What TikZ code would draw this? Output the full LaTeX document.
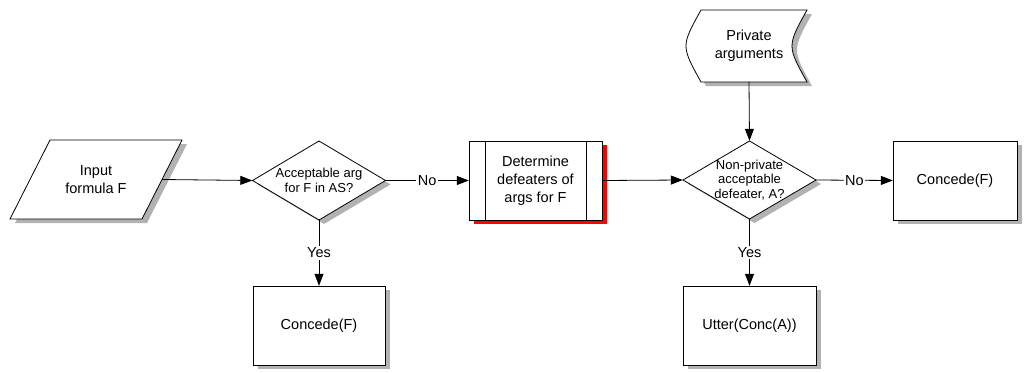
\documentclass[tikz,border=0pt]{standalone}
\usepackage{fontspec}
\setmainfont{Liberation Sans}
\usetikzlibrary{arrows.meta}

\definecolor{shadowgrey}{rgb}{0.7,0.7,0.7}
\tikzset{
  txt/.style={inner sep=0pt, align=center, font=\fontsize{14.5}{18}\selectfont},
  smalltxt/.style={inner sep=0pt, align=center, font=\fontsize{13}{15}\selectfont},
  outline/.style={draw=black, line width=0.8pt, fill=white},
  blockshadow/.style={fill=shadowgrey, draw=none},
  flow/.style={draw=black, line width=0.8pt, -{Triangle[length=12pt,width=9pt]}},
  lbl/.style={fill=white, inner sep=1.5pt, font=\fontsize{14.5}{17}\selectfont}
}

\begin{document}
\begin{tikzpicture}[x=1pt, y=-1pt]
  \useasboundingbox (0,0) rectangle (1024,372);

  % grey shadows, offset 5 right and 4 down
  \fill[blockshadow] (55,144) -- (187,144) -- (147,223) -- (15,223) -- cycle;
  \fill[blockshadow] (257.5,184.5) -- (324,145) -- (390.5,184.5) -- (324,224) -- cycle;
  \fill[red] (474,145) rectangle (607,224);
  \fill[blockshadow] (688,184) -- (754.5,145) -- (821,184) -- (754.5,223) -- cycle;
  \fill[blockshadow] (898,145) rectangle (1022,224);
  \fill[blockshadow] (706,14) -- (812,14) .. controls (792,50) .. (812,86)
    -- (706,86) .. controls (686,50) .. (706,14) -- cycle;
  \fill[blockshadow] (258,290) rectangle (390,369);
  \fill[blockshadow] (688,290) rectangle (821,369);

  % block outlines
  \path[outline] (50,140) -- (182,140) -- (142,219) -- (10,219) -- cycle;
  \path[outline] (252.5,180.5) -- (319,141) -- (385.5,180.5) -- (319,220) -- cycle;
  \path[outline] (469,141) rectangle (602,220);
  \draw[line width=0.8pt] (485,141) -- (485,220) (586,141) -- (586,220);
  \path[outline] (683,180) -- (749.5,141) -- (816,180) -- (749.5,219) -- cycle;
  \path[outline] (893,141) rectangle (1017,220);
  \path[outline] (701,10) -- (807,10) .. controls (787,46) .. (807,82)
    -- (701,82) .. controls (681,46) .. (701,10) -- cycle;
  \path[outline] (253,286) rectangle (385,365);
  \path[outline] (683,286) rectangle (816,365);

  % block texts
  \node[txt, minimum width=132, minimum height=79] (in) at (96,179.5) {Input\\formula F};
  \node[smalltxt, minimum width=133, minimum height=79] (d1) at (319,180.5) {Acceptable arg\\for F in AS?};
  \node[txt, minimum width=133, minimum height=79] (det) at (535.5,180.5) {Determine\\defeaters of\\args for F};
  \node[smalltxt, font=\fontsize{13}{14.5}\selectfont, minimum width=133, minimum height=78] (d2) at (749.5,180) {Non-private\\acceptable\\defeater, A?};
  \node[txt, minimum width=124, minimum height=79] (c2) at (955,180.5) {Concede(F)};
  \node[txt, minimum width=116, minimum height=72] (pa) at (749,46) {Private\\arguments};
  \node[txt, minimum width=132, minimum height=79] (b1) at (319,325.5) {Concede(F)};
  \node[txt, minimum width=133, minimum height=79] (b2) at (749.5,325.5) {Utter(Conc(A))};

  % connectors
  \draw[flow] (in.east) -- (d1.west);
  \draw[flow] (d1.east) -- node[lbl] {No} (det.west);
  \draw[flow] (d1.south) -- node[lbl] {Yes} (b1.north);
  \draw[flow] (det.east) -- (d2.west);
  \draw[flow] (pa.south) -- (d2.north);
  \draw[flow] (d2.east) -- node[lbl] {No} (c2.west);
  \draw[flow] (d2.south) -- node[lbl] {Yes} (b2.north);
\end{tikzpicture}
\end{document}
